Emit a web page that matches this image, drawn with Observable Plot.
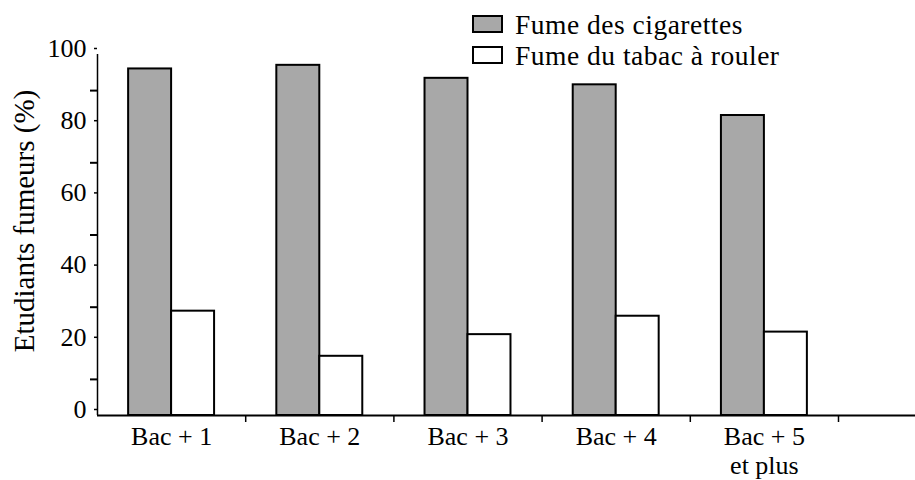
<!DOCTYPE html>
<html>
<head>
<meta charset="utf-8">
<script src="https://cdn.jsdelivr.net/npm/d3@7"></script>
<script src="https://cdn.jsdelivr.net/npm/@observablehq/plot@0.6"></script>
<style>
  html, body { margin: 0; padding: 0; background: #fff; }
  #wrap { position: relative; width: 915px; height: 480px; font-family: "Liberation Serif", serif; color: #000; }
  .legend { position: absolute; left: 472px; top: 10px; font-size: 27.5px; letter-spacing: 0.5px; }
  .legend .row { position: relative; height: 30.5px; line-height: 30.5px; }
  .legend .sw { position: absolute; left: 0; top: 5px; width: 27px; height: 14px; border: 2px solid #000; }
  .legend .lab { position: absolute; left: 43px; top: 0; white-space: nowrap; }
</style>
</head>
<body>
<div id="wrap"></div>
<script>
const categories = ["Bac + 1", "Bac + 2", "Bac + 3", "Bac + 4", "Bac + 5\net plus"];
const cigarettes = [96, 97, 93.4, 91.6, 83.1];
const tabacRouler = [28.9, 16.4, 22.4, 27.5, 23.1];
const seriesNames = ["Fume des cigarettes", "Fume du tabac à rouler"];
const seriesColors = ["#a8a8a8", "#ffffff"];
const yTicks = [0, 20, 40, 60, 80, 100];
const yMinorTicks = [10, 30, 50, 70, 90];
const yLabel = "Etudiants fumeurs (%)";

const data = categories.map((c, i) => ({i, category: c, cig: cigarettes[i], roll: tabacRouler[i]}));
const barW = 0.29;
const centers = categories.map((c, i) => i + 0.5);
const boundaries = categories.map((c, i) => i + 1);
const serif = "Liberation Serif";

const plot = Plot.plot({
  width: 915,
  height: 480,
  marginLeft: 97,
  marginRight: 0,
  marginTop: 54,
  marginBottom: 65,
  style: {fontFamily: "'Liberation Serif', serif", color: "#000", background: "transparent"},
  x: {type: "linear", domain: [0, categories.length], range: [97, 838]},
  y: {domain: [0, 100]},
  marks: [
    Plot.rectY(data, {x1: d => d.i + 0.5 - barW, x2: d => d.i + 0.5, y: "cig", fill: seriesColors[0], stroke: "#000", strokeWidth: 2}),
    Plot.rectY(data, {x1: d => d.i + 0.5, x2: d => d.i + 0.5 + barW, y: "roll", fill: seriesColors[1], stroke: "#000", strokeWidth: 2}),
    Plot.ruleY([0], {stroke: "#000", strokeWidth: 2}),
    Plot.ruleX([0], {y1: 0, y2: 100, stroke: "#000", strokeWidth: 1.5}),
    Plot.axisY({ticks: yTicks, tickSize: 3, tickPadding: 8, fontSize: 26, fontFamily: serif, dy: -6, label: null, strokeWidth: 1.5}),
    Plot.axisY({ticks: yMinorTicks, tickSize: 7, tickFormat: () => "", label: null, strokeWidth: 2}),
    Plot.axisX({ticks: boundaries, tickSize: 7, tickFormat: () => "", label: null, strokeWidth: 1.5}),
    Plot.axisX({ticks: centers, tickSize: 0, tickPadding: 9, fontSize: 26, fontFamily: serif, lineHeight: 1.12,
      tickFormat: v => categories[Math.round(v - 0.5)], label: null}),
    Plot.text([yLabel], {frameAnchor: "left", textAnchor: "middle", rotate: -90, dx: -73, dy: -14, fontSize: 29, fontFamily: serif, fill: "#000"})
  ]
});

const wrap = document.getElementById("wrap");
wrap.appendChild(plot);
const legend = document.createElement("div");
legend.className = "legend";
seriesNames.forEach((name, k) => {
  const row = document.createElement("div");
  row.className = "row";
  const sw = document.createElement("span");
  sw.className = "sw";
  sw.style.background = seriesColors[k];
  const t = document.createElement("span");
  t.className = "lab";
  t.textContent = name;
  row.appendChild(sw);
  row.appendChild(t);
  legend.appendChild(row);
});
wrap.appendChild(legend);
</script>
</body>
</html>
